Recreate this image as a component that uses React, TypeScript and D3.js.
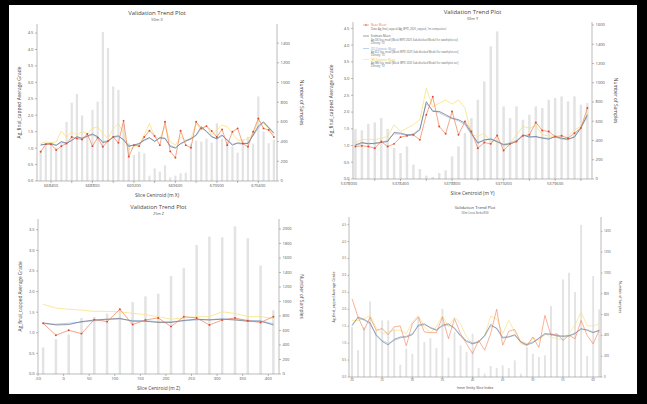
import React from 'react';
import * as d3 from 'd3';

// ---- 50m X ----
const xSlices = [
  668300, 668350, 668400, 668450, 668500, 668550, 668600, 668650, 668700, 668750,
  668800, 668850, 668900, 668950, 669000, 669050, 669100, 669150, 669200, 669250,
  669300, 669350, 669400, 669450, 669500, 669550, 669600, 669650, 669700, 669750,
  669800, 669850, 669900, 669950, 670000, 670050, 670100, 670150, 670200, 670250,
  670300, 670350, 670400, 670450, 670500, 670550,
];
const xCounts = [
  310, 360, 380, 340, 390, 600, 795, 885, 665, 485, 722, 806, 1512, 1349, 959, 925, 586, 383, 264, 298,
  281, 54, 129, 95, 159, 37, 54, 78, 85, 380, 410, 400, 430, 390, 586, 430, 400, 349, 288, 420,
  450, 380, 858, 500, 383, 420,
];
const xData = [
  0.89, 1.12, 1.12, 0.94, 1.06, 1.14, 1.34, 1.29, 1.26, 1.43, 1.06, 1.32, 1.04, 1.22, 1.34, 1.16, 1.83, 0.74, 1.09, 1.06,
  1.34, 1.53, 1.37, 1.09, 1.8, 0.9, 0.71, 1.53, 1.09, 1.01, 1.8, 1.6, 1.67, 1.52, 1.34, 1.57, 1.09, 1.5, 1.6, 1.14,
  1.04, 1.5, 1.9, 1.6, 1.55, 1.34,
];
const xOk = [
  1.1, 1.12, 1.13, 1.08, 1.2, 1.15, 1.23, 1.35, 1.3, 1.37, 1.43, 1.35, 1.17, 1.2, 1.35, 1.37, 1.25, 1.05, 1.1, 1.13,
  1.25, 1.32, 1.2, 1.32, 1.3, 1.05, 1.0, 1.14, 1.22, 1.29, 1.4, 1.65, 1.5, 1.34, 1.29, 1.4, 1.24, 1.09, 1.16, 1.14,
  1.14, 1.4, 1.67, 1.8, 1.62, 1.45,
];
const xId = [
  1.08, 1.13, 1.15, 1.1, 1.18, 1.13, 1.25, 1.33, 1.28, 1.35, 1.4, 1.33, 1.2, 1.22, 1.32, 1.35, 1.27, 1.08, 1.08, 1.15,
  1.23, 1.3, 1.22, 1.3, 1.28, 1.08, 1.02, 1.12, 1.2, 1.27, 1.38, 1.6, 1.52, 1.37, 1.27, 1.37, 1.26, 1.12, 1.14, 1.12,
  1.17, 1.37, 1.62, 1.77, 1.64, 1.47,
];
const xNn = [
  1.14, 1.19, 1.16, 1.19, 1.52, 1.34, 1.5, 1.4, 1.5, 1.45, 1.6, 1.65, 1.45, 1.29, 1.6, 1.75, 1.45, 0.94, 1.04, 1.09,
  1.4, 1.75, 1.34, 1.29, 1.67, 1.19, 1.09, 1.34, 1.24, 1.29, 1.75, 1.55, 1.67, 1.4, 1.55, 1.7, 1.65, 1.45, 1.24, 1.24,
  1.29, 1.4, 1.85, 1.75, 1.6, 1.4,
];
const xLabelTicks = [668400, 668800, 669200, 669600, 670000, 670400];
const xMinorTicks = [668600, 669000, 669400, 669800, 670200];

// ---- 50m Y ----
const ySlices = [
  5378050, 5378100, 5378150, 5378200, 5378250, 5378300, 5378350, 5378400, 5378450, 5378500,
  5378550, 5378600, 5378650, 5378700, 5378750, 5378800, 5378850, 5378900, 5378950, 5379000,
  5379050, 5379100, 5379150, 5379200, 5379250, 5379300, 5379350, 5379400, 5379450, 5379500,
  5379550, 5379600, 5379650, 5379700, 5379750, 5379800, 5379850,
];
const yCounts = [
  519, 505, 574, 588, 633, 520, 322, 270, 339, 149, 104, 35, 21, 62, 90, 235, 339, 478, 633, 823,
  1014, 1377, 1533, 754, 633, 754, 616, 668, 754, 737, 823, 841, 858, 806, 858, 772, 789,
];
const yData = [
  0.97, 0.99, 0.97, 0.92, 1.12, 0.97, 1.05, 1.25, 1.29, 1.32, 1.17, 1.92, 2.46, 1.57, 1.35, 2.02, 1.32, 1.72, 1.42, 0.92,
  1.09, 1.05, 1.3, 0.85, 1.05, 1.12, 1.29, 1.32, 1.69, 1.45, 1.42, 1.27, 1.29, 1.22, 1.37, 1.52, 2.12,
];
const yOk = [
  1.02, 1.09, 1.05, 1.07, 1.09, 1.12, 1.39, 1.37, 1.32, 1.32, 1.47, 2.31, 2.02, 2.02, 1.92, 1.82, 1.77, 1.67, 1.37, 1.07,
  1.17, 1.19, 1.12, 1.02, 1.05, 1.12, 1.32, 1.25, 1.27, 1.22, 1.19, 1.27, 1.22, 1.19, 1.25, 1.52, 1.92,
];
const yId = [
  1.0, 1.06, 1.07, 1.05, 1.1, 1.15, 1.35, 1.34, 1.3, 1.35, 1.5, 2.25, 2.05, 1.98, 1.88, 1.8, 1.74, 1.62, 1.33, 1.1,
  1.15, 1.21, 1.1, 1.04, 1.08, 1.15, 1.3, 1.27, 1.25, 1.24, 1.21, 1.25, 1.2, 1.17, 1.28, 1.55, 1.86,
];
const yNn = [
  1.09, 1.17, 1.19, 1.17, 1.22, 1.27, 1.62, 1.42, 1.52, 1.62, 1.77, 2.71, 2.16, 2.26, 2.36, 2.24, 2.36, 2.12, 1.32, 1.27,
  1.37, 1.09, 1.17, 0.97, 1.07, 1.32, 1.57, 1.52, 1.59, 1.32, 1.29, 1.27, 1.17, 1.27, 1.47, 1.57, 1.97,
];
const yLabelTicks = [5378000, 5378400, 5378800, 5379200, 5379600];
const yMinorTicks = [5378200, 5378600, 5379000, 5379400, 5379800];

// ---- 25m Z ----
const zSlices = [-40, -15, 10, 35, 60, 85, 110, 135, 160, 185, 210, 235, 260, 285, 310, 335, 360, 385, 410];
const zCounts = [366, 480, 545, 773, 787, 833, 900, 993, 1071, 1108, 1350, 1460, 1780, 1895, 1886, 2037, 1872, 1497, 879];
const zData = [1.23, 0.94, 1.06, 0.98, 1.32, 1.27, 1.57, 1.2, 1.31, 1.36, 1.15, 1.39, 1.36, 1.19, 1.31, 1.36, 1.29, 1.25, 1.39];
const zOk = [1.24, 1.19, 1.2, 1.27, 1.31, 1.33, 1.35, 1.28, 1.28, 1.25, 1.25, 1.3, 1.33, 1.31, 1.33, 1.31, 1.28, 1.28, 1.19];
const zId = [1.22, 1.21, 1.23, 1.26, 1.29, 1.32, 1.33, 1.3, 1.29, 1.27, 1.27, 1.29, 1.31, 1.32, 1.34, 1.33, 1.3, 1.29, 1.22];
const zNn = [1.69, 1.6, 1.57, 1.55, 1.52, 1.52, 1.51, 1.47, 1.44, 1.39, 1.33, 1.36, 1.39, 1.39, 1.51, 1.47, 1.39, 1.39, 1.35];
const zLabelTicks = [-50, 0, 50, 100, 150, 200, 250, 300, 350, 400];

// ---- 50m cross strike ----
const sSlices = [
  20, 21, 22, 23, 24, 25, 26, 27, 28, 29, 30, 31, 32, 33, 34, 35, 36, 37, 38, 39, 40,
  41, 42, 43, 44, 45, 46, 47, 48, 49, 50, 51, 52, 53, 54, 55, 56, 57, 58, 59, 60, 61,
];
const sCounts = [
  480, 256, 480, 726, 448, 544, 544, 464, 118, 272, 224, 576, 336, 374, 278, 656, 186, 432, 304, 240,
  416, 86, 32, 106, 86, 112, 86, 160, 32, 288, 224, 192, 208, 682, 416, 938, 1002, 816, 1462, 202,
  970, 650,
];
const sData = [
  2.31, 1.77, 1.38, 1.77, 1.38, 1.43, 1.25, 1.48, 1.51, 0.92, 1.57, 1.77, 1.33, 1.31, 1.31, 1.77, 1.13, 1.72, 1.28, 0.98,
  0.69, 1.08, 0.79, 1.28, 2.0, 0.94, 1.35, 1.4, 1.03, 0.92, 1.18, 0.87, 1.82, 1.23, 1.28, 1.08, 1.23, 1.13, 1.67, 1.23,
  0.98, 1.38,
];
const sOk = [
  1.51, 1.77, 1.7, 1.6, 1.23, 1.05, 0.95, 1.11, 1.18, 1.18, 1.25, 1.53, 1.57, 1.45, 1.38, 1.53, 1.57, 1.43, 1.21, 1.05,
  0.98, 1.03, 1.23, 1.55, 1.43, 1.15, 1.18, 1.25, 1.03, 0.95, 1.01, 1.15, 1.28, 1.26, 1.21, 1.21, 1.21, 1.28, 1.43, 1.38,
  1.31, 1.38,
];
const sId = [
  1.55, 1.74, 1.68, 1.56, 1.26, 1.08, 0.99, 1.08, 1.15, 1.21, 1.28, 1.5, 1.54, 1.47, 1.4, 1.5, 1.54, 1.46, 1.24, 1.08,
  1.01, 1.05, 1.2, 1.5, 1.45, 1.18, 1.2, 1.22, 1.06, 0.98, 1.04, 1.13, 1.25, 1.28, 1.23, 1.19, 1.23, 1.3, 1.4, 1.4,
  1.33, 1.36,
];
const sNn = [
  1.67, 1.67, 1.72, 1.82, 1.45, 1.28, 1.33, 1.38, 1.38, 1.28, 1.62, 1.82, 1.48, 1.31, 1.48, 1.82, 1.48, 1.77, 1.57, 1.18,
  0.98, 1.05, 1.21, 1.8, 1.72, 1.28, 1.67, 1.33, 0.98, 0.95, 1.15, 1.08, 1.28, 1.18, 1.13, 1.11, 1.28, 1.53, 1.92, 1.51,
  1.51, 1.57,
];
const sLabelTicks = [20, 25, 30, 35, 40, 45, 50, 55, 60];

const gradeTicks45 = [0, 0.5, 1, 1.5, 2, 2.5, 3, 3.5, 4, 4.5];
const gradeTicks35 = [0, 0.5, 1, 1.5, 2, 2.5, 3, 3.5];
const countTicks1400 = [0, 200, 400, 600, 800, 1000, 1200, 1400];
const countTicks1600 = [0, 200, 400, 600, 800, 1000, 1200, 1400, 1600];
const countTicks2000 = [0, 200, 400, 600, 800, 1000, 1200, 1400, 1600, 1800, 2000];

const legendLabels = ['Naive Mean', 'Estimate Mean', 'ID2 Estimate Mean', 'NN Estimate Mean'];
const legendDetails = [
  ['Data: Ag_final_capped (Ag_WPD_2025_capped_1m composites)'],
  ['Ag-OK (lvu_mod) [Block WPD 2025 Sub-blocked Model for swathplot.csv]', 'Density: TG'],
  ['Ag-ID2 (lvu_mod) [Block WPD 2025 Sub-blocked Model for swathplot.csv]', 'Density: TG'],
  ['Ag-NN (lvu_mod) [Block WPD 2025 Sub-blocked Model for swathplot.csv]', 'Density: TG'],
];

const FONT = "'Open Sans', 'DejaVu Sans', sans-serif";
const C_DATA = '#f07448';
const C_DOT = '#dc4a30';
const C_OK = '#596274';
const C_ID = '#93b6e2';
const C_NN = '#f8e07a';
const C_BAR = '#e3e3e3';
const C_AXIS = '#777';
const C_TEXT = '#555';

interface PanelCfg {
  left: number; right: number; top: number; bottom: number;
  xDomain: [number, number]; yMax: number; nMax: number;
  xs: number[]; counts: number[]; data: number[]; ok: number[]; id: number[]; nn: number[];
  xTicks: number[]; xMinor: number[]; yTicks: number[]; nTicks: number[];
  title: string; subtitle: string; xTitle: string;
  titleY: number; subY: number; xTitleY: number; yLabX: number; nLabX: number;
  fs: number; barW: number; dots: boolean; legend?: boolean;
}

function Panel({ c }: { c: PanelCfg }) {
  const x = d3.scaleLinear().domain(c.xDomain).range([c.left, c.right]);
  const y = d3.scaleLinear().domain([0, c.yMax]).range([c.bottom, c.top]);
  const yn = d3.scaleLinear().domain([0, c.nMax]).range([c.bottom, c.top]);
  const line = d3.line<number>().x((_, i) => x(c.xs[i])).y(d => y(d));
  const fmtG = d3.format('.1f');
  const cx = (c.left + c.right) / 2;
  const cy = (c.top + c.bottom) / 2;
  const tick = c.fs * 0.5;
  const tf = c.fs;
  const lw = c.dots ? 0.65 : 0.55;

  return (
    <g fontFamily={FONT}>
      {c.counts.map((n, i) => (
        <rect key={'b' + i} x={x(c.xs[i]) - c.barW / 2} y={yn(n)} width={c.barW}
          height={c.bottom - yn(n)} fill={C_BAR} />
      ))}
      <path d={line(c.nn) || ''} fill="none" stroke={C_NN} strokeWidth={lw + 0.1} />
      <path d={line(c.id) || ''} fill="none" stroke={C_ID} strokeWidth={lw} />
      <path d={line(c.ok) || ''} fill="none" stroke={C_OK} strokeWidth={lw} />
      <path d={line(c.data) || ''} fill="none" stroke={C_DATA} strokeWidth={lw} />
      {c.dots && c.data.map((v, i) => (
        <circle key={'d' + i} cx={x(c.xs[i])} cy={y(v)} r={0.95} fill={C_DOT} />
      ))}

      {/* axes */}
      <line x1={c.left} x2={c.left} y1={c.top} y2={c.bottom} stroke={C_AXIS} strokeWidth={0.5} />
      <line x1={c.right} x2={c.right} y1={c.top} y2={c.bottom} stroke={C_AXIS} strokeWidth={0.5} />
      <line x1={c.left} x2={c.right} y1={c.bottom} y2={c.bottom} stroke={C_AXIS} strokeWidth={0.5} />
      {c.yTicks.map(t => (
        <g key={'yt' + t}>
          <line x1={c.left - tick} x2={c.left} y1={y(t)} y2={y(t)} stroke={C_AXIS} strokeWidth={0.5} />
          <text x={c.left - tick - 1.5} y={y(t) + tf * 0.35} fontSize={tf} fill={C_TEXT} textAnchor="end">{fmtG(t)}</text>
        </g>
      ))}
      {c.nTicks.map(t => (
        <g key={'nt' + t}>
          <line x1={c.right} x2={c.right + tick} y1={yn(t)} y2={yn(t)} stroke={C_AXIS} strokeWidth={0.5} />
          <text x={c.right + tick + 1.5} y={yn(t) + tf * 0.35} fontSize={tf} fill={C_TEXT}>{t}</text>
        </g>
      ))}
      {c.xTicks.map(t => (
        <g key={'xt' + t}>
          <line x1={x(t)} x2={x(t)} y1={c.bottom} y2={c.bottom + tick} stroke={C_AXIS} strokeWidth={0.5} />
          <text x={x(t)} y={c.bottom + tick + tf * 1.05} fontSize={tf} fill={C_TEXT} textAnchor="middle">{t}</text>
        </g>
      ))}
      {c.xMinor.map(t => (
        <line key={'xm' + t} x1={x(t)} x2={x(t)} y1={c.bottom} y2={c.bottom + tick} stroke={C_AXIS} strokeWidth={0.5} />
      ))}

      {/* titles */}
      <text x={cx} y={c.titleY} fontSize={tf * 1.45} fill="#444" textAnchor="middle">{c.title}</text>
      <text x={cx} y={c.subY} fontSize={tf * 0.95} fill="#555" textAnchor="middle">{c.subtitle}</text>
      <text x={cx} y={c.xTitleY} fontSize={tf * 1.2} fill="#444" textAnchor="middle">{c.xTitle}</text>
      <text transform={`translate(${c.yLabX},${cy}) rotate(-90)`} fontSize={tf * 1.2} fill="#444"
        textAnchor="middle">Ag_final_capped Average Grade</text>
      <text transform={`translate(${c.nLabX},${cy}) rotate(90)`} fontSize={tf * 1.2} fill="#444"
        textAnchor="middle">Number of Samples</text>

      {c.legend && (
        <g transform={`translate(${c.left + 10},${c.top + 3})`}>
          {legendLabels.map((lab, i) => {
            const colors = [C_DATA, C_OK, C_ID, C_NN];
            const textCol = [C_DATA, '#555', '#7ea5d6', '#e6c84a'];
            const oy = [0, 11, 23.5, 34.5][i];
            return (
              <g key={lab} transform={`translate(0,${oy})`}>
                <line x1={0} x2={6} y1={0} y2={0} stroke={colors[i]} strokeWidth={0.6} />
                {i === 0 && <circle cx={3} cy={0} r={0.75} fill={C_DOT} />}
                <text x={8} y={1} fontSize={2.8} fill={textCol[i]}>{lab}</text>
                {legendDetails[i].map((d, j) => (
                  <text key={j} x={8} y={4.6 + j * 3.1} fontSize={2.6} fill="#666">{d}</text>
                ))}
              </g>
            );
          })}
        </g>
      )}
    </g>
  );
}

const panels: PanelCfg[] = [
  {
    left: 37, right: 277, top: 24, bottom: 181, xDomain: [668265, 670580], yMax: 4.775, nMax: 1594,
    xs: xSlices, counts: xCounts, data: xData, ok: xOk, id: xId, nn: xNn,
    xTicks: xLabelTicks, xMinor: xMinorTicks, yTicks: gradeTicks45, nTicks: countTicks1400,
    title: 'Validation Trend Plot', subtitle: '50m X', xTitle: 'Slice Centroid (m X)',
    titleY: 14.5, subY: 21, xTitleY: 196.5, yLabX: 21, nLabX: 300, fs: 4.1, barW: 2.2, dots: true,
  },
  {
    left: 353, right: 592, top: 22, bottom: 179, xDomain: [5378031, 5379886], yMax: 4.69, nMax: 1631,
    xs: ySlices, counts: yCounts, data: yData, ok: yOk, id: yId, nn: yNn,
    xTicks: yLabelTicks, xMinor: yMinorTicks, yTicks: gradeTicks45, nTicks: countTicks1600,
    title: 'Validation Trend Plot', subtitle: '50m Y', xTitle: 'Slice Centroid (m Y)',
    titleY: 13.5, subY: 20, xTitleY: 195, yLabX: 333, nLabX: 614, fs: 4.1, barW: 2.5, dots: true, legend: true,
  },
  {
    left: 38, right: 279, top: 219, bottom: 374, xDomain: [-50, 421], yMax: 3.76, nMax: 2138,
    xs: zSlices, counts: zCounts, data: zData, ok: zOk, id: zId, nn: zNn,
    xTicks: zLabelTicks, xMinor: [], yTicks: gradeTicks35, nTicks: countTicks2000,
    title: 'Validation Trend Plot', subtitle: '25m Z', xTitle: 'Slice Centroid (m Z)',
    titleY: 209, subY: 215.3, xTitleY: 390, yLabX: 22, nLabX: 300, fs: 4.0, barW: 2.5, dots: true,
  },
  {
    left: 349, right: 601, top: 217, bottom: 377, xDomain: [19.5, 61.3], yMax: 4.725, nMax: 1538,
    xs: sSlices, counts: sCounts, data: sData, ok: sOk, id: sId, nn: sNn,
    xTicks: sLabelTicks, xMinor: [], yTicks: gradeTicks45, nTicks: countTicks1400,
    title: 'Validation Trend Plot', subtitle: '50m Cross Strike(SIS)', xTitle: 'Inner Entity Slice Index',
    titleY: 209, subY: 214, xTitleY: 389, yLabX: 335, nLabX: 619, fs: 2.9, barW: 1.9, dots: false,
  },
];

export default function App() {
  return (
    <svg width={647} height={404} style={{ position: 'absolute', left: 0, top: 0 }}>
      <rect x={0} y={0} width={647} height={404} fill="#000" />
      <rect x={9} y={5} width={628} height={389} fill="#fff" />
      {panels.map((p, i) => <Panel key={i} c={p} />)}
    </svg>
  );
}
